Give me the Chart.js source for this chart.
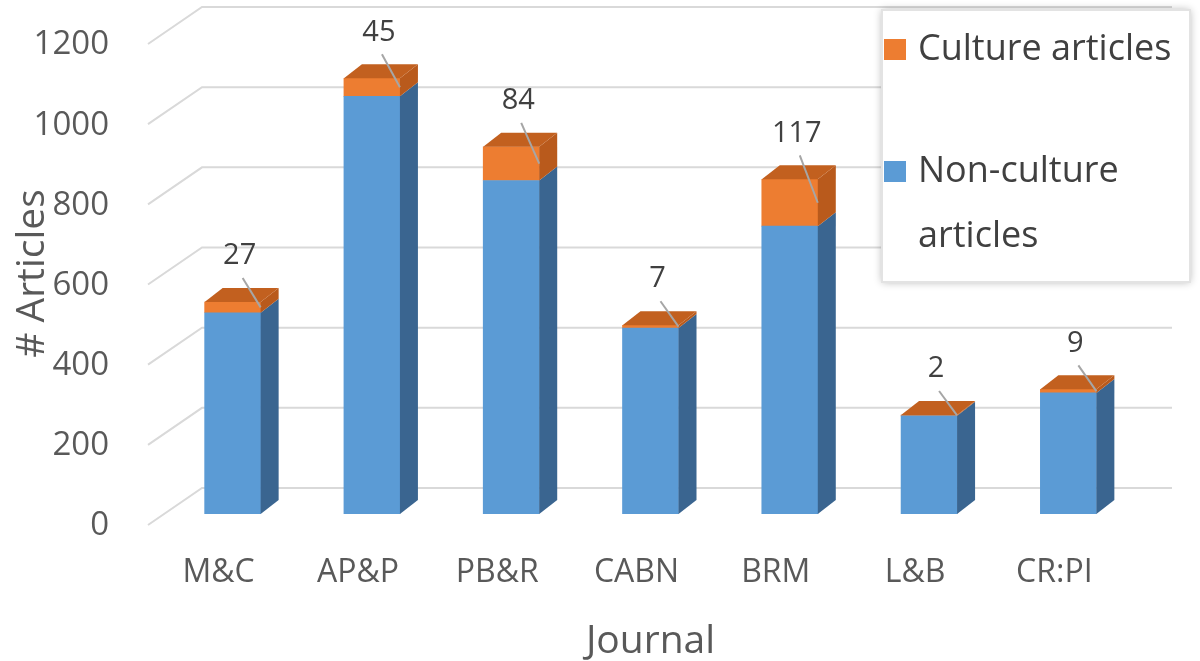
<!DOCTYPE html>
<html lang="en">
<head>
<meta charset="UTF-8">
<title>Culture articles by journal</title>
<script src="https://cdn.jsdelivr.net/npm/chart.js"></script>
<style>
  html, body { margin: 0; padding: 0; background: #fff; }
  #wrap { width: 1200px; height: 661px; }
</style>
</head>
<body>
<div id="wrap"><canvas id="myChart"></canvas></div>
<script>
// values
const journals = ['M&C', 'AP&P', 'PB&R', 'CABN', 'BRM', 'L&B', 'CR:PI'];
const nonCultureArticles = [502, 1042, 832, 464, 718, 245, 302];
const cultureArticles = [27, 45, 84, 7, 117, 2, 9];
const yTicks = [0, 200, 400, 600, 800, 1000, 1200];

const FONT = "'Open Sans', sans-serif";
const DX = 18, DY = 14;   // fake 3d depth

Chart.defaults.font.family = FONT;
Chart.defaults.color = '#595959';

// back wall + slanted grid lines
const wallPlugin = {
    id: 'wall',
    beforeDatasetsDraw(chart) {
        const {ctx, chartArea: a, scales: {y}} = chart;
        ctx.save();
        ctx.strokeStyle = '#d9d9d9';
        ctx.lineWidth = 2;
        y.ticks.forEach(t => {
            const py = y.getPixelForValue(t.value);
            ctx.beginPath();
            ctx.moveTo(a.left - 15, py + 11);
            ctx.lineTo(a.left + 39, py - 26);
            ctx.lineTo(a.right + 34, py - 26);
            ctx.stroke();
        });
        ctx.restore();
    }
};

// side and top faces of the bars, then the value labels
const depthPlugin = {
    id: 'depth',
    afterDatasetsDraw(chart) {
        const ctx = chart.ctx;
        const last = chart.data.datasets.length - 1;
        ctx.save();
        chart.data.datasets.forEach((ds, di) => {
            const meta = chart.getDatasetMeta(di);
            meta.data.forEach(bar => {
                const p = bar.getProps(['x', 'y', 'base', 'width'], true);
                const l = p.x - p.width / 2, r = p.x + p.width / 2;
                const top = Math.min(p.y, p.base), bot = Math.max(p.y, p.base);
                ctx.fillStyle = ds.sideColor;
                ctx.beginPath();
                ctx.moveTo(r, top);
                ctx.lineTo(r + DX, top - DY);
                ctx.lineTo(r + DX, bot - DY);
                ctx.lineTo(r, bot);
                ctx.closePath();
                ctx.fill();
                if (di === last) {
                    ctx.fillStyle = ds.topColor;
                    ctx.beginPath();
                    ctx.moveTo(l, top);
                    ctx.lineTo(l + DX, top - DY);
                    ctx.lineTo(r + DX, top - DY);
                    ctx.lineTo(r, top);
                    ctx.closePath();
                    ctx.fill();
                }
            });
        });

        // culture counts with leader lines
        const di = chart.data.datasets.findIndex(d => d.label === 'Culture articles');
        const meta = chart.getDatasetMeta(di);
        ctx.font = '29px ' + FONT;
        ctx.textAlign = 'center';
        ctx.textBaseline = 'middle';
        meta.data.forEach((bar, i) => {
            const p = bar.getProps(['x', 'y', 'base', 'width'], true);
            const r = p.x + p.width / 2;
            const lx = r - 21, ly = p.y - 46;
            ctx.strokeStyle = '#a6a6a6';
            ctx.lineWidth = 2;
            ctx.beginPath();
            ctx.moveTo(lx + 3, ly + 22);
            ctx.lineTo(r, (p.y + p.base) / 2);
            ctx.stroke();
            ctx.fillStyle = '#404040';
            ctx.fillText(String(chart.data.datasets[di].data[i]), lx, ly);
        });
        ctx.restore();
    }
};

// legend box sitting over the plot, top right
const legendPlugin = {
    id: 'boxLegend',
    afterDraw(chart) {
        const ctx = chart.ctx;
        const bx = 882, by = 10, bw = 308, bh = 272;
        ctx.save();
        ctx.shadowColor = 'rgba(0,0,0,0.3)';
        ctx.shadowBlur = 8;
        ctx.fillStyle = '#fff';
        ctx.fillRect(bx, by, bw, bh);
        ctx.shadowColor = 'transparent';
        ctx.strokeStyle = '#e3e3e3';
        ctx.lineWidth = 2;
        ctx.strokeRect(bx, by, bw, bh);

        ctx.font = '36px ' + FONT;
        ctx.textBaseline = 'middle';
        ctx.textAlign = 'left';
        const items = chart.data.datasets.slice().reverse();
        let y = by + 40;
        items.forEach(ds => {
            ctx.fillStyle = ds.backgroundColor;
            ctx.fillRect(bx + 2, y - 11, 22, 21);
            // simple word wrap
            const words = ds.label.split(' ');
            const lines = [];
            let cur = '';
            words.forEach(w => {
                const test = cur ? cur + ' ' + w : w;
                if (ctx.measureText(test).width > 262 && cur) { lines.push(cur); cur = w; }
                else cur = test;
            });
            lines.push(cur);
            ctx.fillStyle = '#404040';
            lines.forEach((ln, k) => ctx.fillText(ln, bx + 36, y + k * 65));
            y += 122;
        });
        ctx.restore();
    }
};

const ctx = document.getElementById('myChart').getContext('2d');
const myChart = new Chart(ctx, {
    type: 'bar',
    data: {
        labels: journals,
        datasets: [
            {
                label: 'Non-culture articles',
                data: nonCultureArticles,
                backgroundColor: '#5b9bd5',
                sideColor: '#3a6590',
                topColor: '#4a7fb0',
                barThickness: 56
            },
            {
                label: 'Culture articles',
                data: cultureArticles,
                backgroundColor: '#ed7d31',
                sideColor: '#b95a1c',
                topColor: '#c2601f',
                barThickness: 56
            }
        ]
    },
    options: {
        responsive: true,
        maintainAspectRatio: false,
        animation: false,
        layout: { padding: { top: 33, right: 62, left: 0, bottom: 0 } },
        plugins: {
            legend: { display: false },
            tooltip: { enabled: false }
        },
        scales: {
            x: {
                stacked: true,
                grid: { display: false },
                border: { display: false },
                ticks: { font: { size: 32 }, padding: 32, labelOffset: -14 },
                title: {
                    display: true,
                    text: 'Journal',
                    font: { size: 39, lineHeight: 1 },
                    padding: { top: 0, bottom: 0 }
                },
                afterFit(s) { s.height = 147; s.paddingLeft = 0; s.paddingRight = 0; }
            },
            y: {
                stacked: true,
                min: 0,
                max: 1200,
                grid: { display: false },
                border: { display: false },
                ticks: {
                    font: { size: 33 },
                    padding: 46,
                    labelOffset: 12,
                    callback: v => String(v)
                },
                afterBuildTicks(s) { s.ticks = yTicks.map(v => ({ value: v })); },
                title: {
                    display: true,
                    text: '# Articles',
                    font: { size: 39 },
                    padding: { top: 9, bottom: 0 }
                },
                afterFit(s) { s.width = 163; s.paddingTop = 0; s.paddingBottom = 0; }
            }
        }
    },
    plugins: [wallPlugin, depthPlugin, legendPlugin]
});
</script>
</body>
</html>
